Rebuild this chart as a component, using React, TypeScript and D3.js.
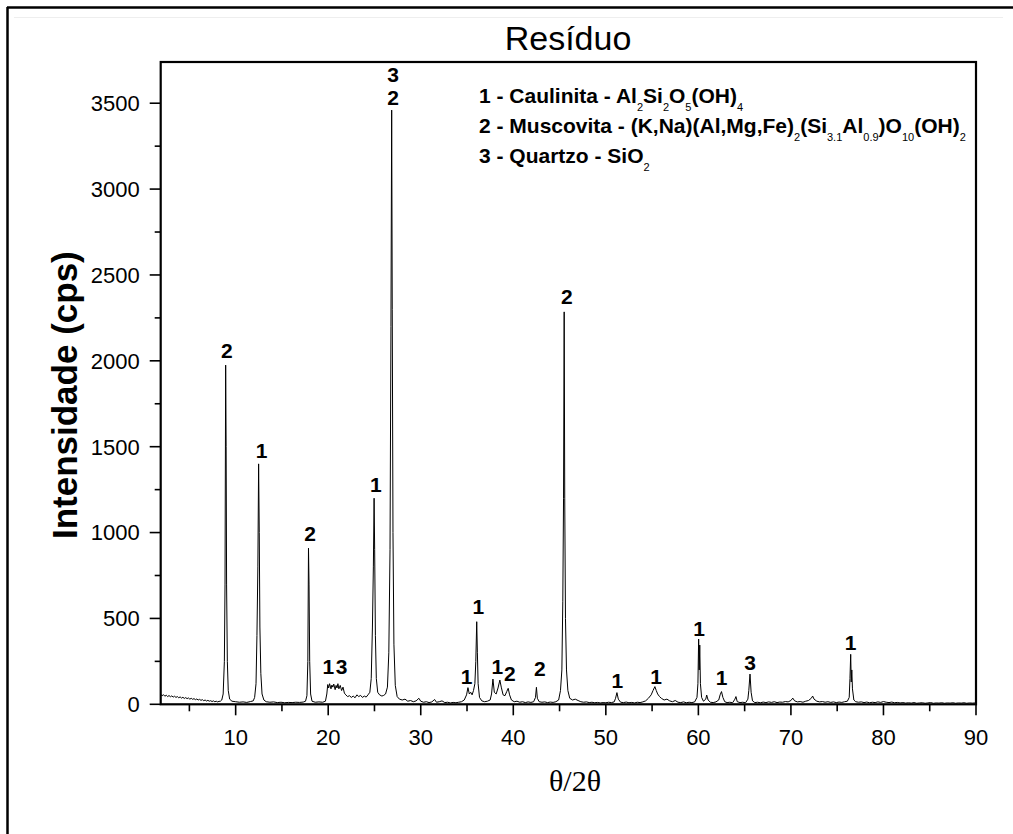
import React from "react";
import * as d3 from "d3";

// ---------- data ----------
const chartTitle = "Resíduo";
const xAxisTitle = "θ/2θ";
const yAxisTitle = "Intensidade (cps)";

const xDomain = [1.9, 90];
const yDomain = [0, 3740];
const xMajorTicks = [10, 20, 30, 40, 50, 60, 70, 80, 90];
const xMinorTicks = [5, 15, 25, 35, 45, 55, 65, 75, 85];
const yMajorTicks = [0, 500, 1000, 1500, 2000, 2500, 3000, 3500];
const yMinorTicks = [250, 750, 1250, 1750, 2250, 2750, 3250];

// diffractogram: [2θ, cps]
const segLowAngle: [number, number][] = [
  [1.9, 58], [2.05, 50], [2.2, 56], [2.35, 47], [2.5, 53], [2.65, 45], [2.8, 51], [2.95, 44], [3.1, 49],
  [3.25, 42], [3.4, 47], [3.55, 40], [3.7, 45], [3.85, 38], [4.0, 43], [4.15, 36], [4.3, 41], [4.45, 34],
  [4.6, 39], [4.75, 33], [4.9, 37], [5.05, 30], [5.2, 35], [5.35, 29], [5.5, 33], [5.65, 27], [5.8, 31],
  [5.95, 25], [6.1, 29], [6.25, 23], [6.4, 27], [6.55, 21], [6.7, 25], [6.85, 19], [7.0, 23], [7.15, 18],
  [7.3, 21], [7.45, 16], [7.6, 20], [7.75, 15], [7.9, 18], [8.05, 14], [8.2, 17], [8.35, 18],
  [8.5, 25], [8.65, 60], [8.78, 250], [8.85, 700], [8.92, 1975], [8.97, 1500], [9.02, 700], [9.1, 250],
  [9.2, 80], [9.35, 30], [9.6, 18], [10.0, 15], [10.4, 12], [10.8, 14], [11.2, 11], [11.6, 16], [11.9, 20],
  [12.05, 40], [12.2, 120], [12.3, 400], [12.4, 800], [12.48, 1400], [12.55, 1000], [12.62, 450],
  [12.72, 180], [12.85, 60], [13.05, 25], [13.3, 15], [13.7, 12], [14.1, 14], [14.5, 10], [14.9, 12],
  [15.3, 9], [15.7, 11], [16.1, 10], [16.5, 12], [16.9, 11], [17.3, 13], [17.55, 18],
  [17.7, 50], [17.8, 250], [17.87, 909], [17.93, 700], [18.0, 250], [18.1, 60], [18.25, 18],
  [18.6, 12], [19.0, 14], [19.4, 12], [19.7, 18],
];
const segMidAngle: [number, number][] = [
  [19.85, 60], [19.95, 115], [20.05, 95], [20.15, 120], [20.3, 90], [20.4, 112], [20.5, 100], [20.6, 118],
  [20.75, 85], [20.85, 110], [20.95, 95], [21.05, 120], [21.15, 90], [21.3, 110], [21.45, 80], [21.6, 100],
  [21.75, 65], [21.9, 55], [22.1, 45], [22.3, 50], [22.5, 40], [22.7, 48], [22.9, 38], [23.1, 55],
  [23.3, 45], [23.5, 52], [23.7, 40], [23.9, 48], [24.1, 42], [24.3, 55], [24.5, 70],
  [24.65, 150], [24.78, 450], [24.88, 800], [24.96, 1200], [25.02, 900], [25.1, 400], [25.2, 150],
  [25.35, 70], [25.55, 55], [25.8, 48], [26.0, 52], [26.2, 60], [26.4, 100],
  [26.55, 300], [26.68, 900], [26.78, 2200], [26.86, 3460], [26.92, 2300], [27.0, 1000], [27.1, 350],
  [27.25, 110], [27.45, 45], [27.7, 30], [28.0, 25], [28.3, 30], [28.6, 18], [28.9, 22], [29.2, 15],
  [29.5, 20], [29.8, 35], [30.0, 18], [30.3, 12], [30.6, 15], [30.9, 10], [31.2, 14], [31.5, 28],
  [31.7, 12], [32.0, 15], [32.3, 20], [32.6, 10], [32.9, 12], [33.2, 8], [33.5, 11], [33.8, 9],
  [34.1, 12], [34.4, 15], [34.7, 25],
  [34.95, 55], [35.1, 97], [35.25, 60], [35.4, 70], [35.55, 55], [35.7, 80],
  [35.85, 120], [35.95, 250], [36.05, 481], [36.12, 300], [36.2, 120], [36.35, 40], [36.6, 20],
  [36.9, 15], [37.2, 18], [37.5, 25],
  [37.65, 60], [37.8, 147], [37.95, 70], [38.15, 60], [38.35, 95], [38.55, 141], [38.7, 100], [38.9, 55],
  [39.1, 50], [39.3, 75], [39.45, 93], [39.6, 55], [39.8, 25], [40.1, 15], [40.4, 18], [40.7, 12],
  [41.0, 15], [41.3, 10], [41.6, 14], [41.9, 11], [42.2, 15], [42.4, 40], [42.5, 99], [42.6, 35],
  [42.8, 15], [43.1, 12], [43.4, 14], [43.7, 10], [44.0, 13], [44.3, 11], [44.6, 15], [44.9, 25],
  [45.1, 80], [45.25, 200], [45.35, 600], [45.43, 1200], [45.5, 2285], [45.56, 1200], [45.64, 500],
  [45.75, 200], [45.9, 80], [46.1, 35], [46.4, 25], [46.7, 30], [47.0, 22], [47.3, 15],
];
const segHighAngle: [number, number][] = [
  [47.6, 12], [47.9, 14], [48.2, 10], [48.5, 12], [48.8, 9], [49.1, 11], [49.4, 8], [49.7, 10],
  [50.0, 9], [50.3, 12], [50.6, 10], [50.9, 14], [51.05, 35], [51.2, 68], [51.35, 30], [51.6, 12],
  [51.9, 10], [52.2, 13], [52.5, 9], [52.8, 11], [53.1, 8], [53.4, 12], [53.7, 10], [54.0, 14],
  [54.3, 20], [54.6, 35], [54.9, 55], [55.1, 80], [55.3, 103], [55.45, 80], [55.6, 60], [55.8, 45],
  [56.0, 35], [56.3, 25], [56.6, 30], [56.9, 20], [57.2, 15], [57.5, 22], [57.8, 12], [58.1, 10],
  [58.4, 14], [58.7, 9], [59.0, 12], [59.3, 10], [59.6, 14], [59.85, 40],
  [59.95, 120], [60.03, 380], [60.09, 200], [60.15, 345], [60.22, 120], [60.35, 40], [60.55, 18],
  [60.8, 30], [60.9, 54], [61.05, 25], [61.3, 12], [61.6, 10], [61.9, 14], [62.2, 25],
  [62.35, 55], [62.5, 74], [62.65, 40], [62.85, 15], [63.1, 10], [63.4, 12], [63.7, 9], [63.95, 30],
  [64.06, 45], [64.2, 15], [64.5, 10], [64.8, 12], [65.1, 9], [65.35, 30],
  [65.45, 80], [65.58, 176], [65.7, 70], [65.85, 20], [66.1, 10], [66.4, 12], [66.7, 9], [67.0, 13],
  [67.3, 10], [67.6, 14], [67.9, 11], [68.2, 15], [68.5, 10], [68.8, 13], [69.1, 12], [69.4, 16],
  [69.7, 14], [70.0, 22], [70.2, 36], [70.4, 20], [70.7, 14], [71.0, 16], [71.3, 12], [71.6, 18],
  [71.9, 22], [72.2, 35], [72.35, 48], [72.5, 30], [72.8, 18], [73.1, 14], [73.4, 16], [73.7, 12],
  [74.0, 15], [74.3, 11], [74.6, 14], [74.9, 10], [75.2, 13], [75.5, 11], [75.8, 15], [76.1, 18],
  [76.3, 40], [76.38, 150], [76.46, 291], [76.52, 130], [76.58, 200], [76.65, 90], [76.8, 25],
  [77.0, 15], [77.3, 12], [77.6, 14], [77.9, 10], [78.2, 13], [78.5, 9], [78.8, 12], [79.1, 10],
  [79.4, 14], [79.7, 11], [80.0, 16], [80.3, 12], [80.6, 10], [80.9, 13], [81.2, 9], [81.5, 11],
  [81.8, 8], [82.1, 10], [82.4, 7], [82.7, 9], [83.0, 7], [83.3, 10], [83.6, 6], [83.9, 8], [84.2, 9],
  [84.5, 6], [84.8, 8], [85.1, 10], [85.4, 6], [85.7, 8], [86.0, 7], [86.3, 9], [86.6, 6], [86.9, 8],
  [87.2, 7], [87.5, 9], [87.8, 6], [88.1, 8], [88.4, 7], [88.7, 9], [89.0, 6], [89.3, 8], [89.6, 7],
  [90.0, 8],
];

// phase labels above peaks: [2θ, cps, text]
const peakLabels: [number, number, string][] = [
  [9.06, 2063, "2"], [12.81, 1481, "1"], [18.03, 994, "2"], [20.01, 219, "1"], [21.45, 219, "3"],
  [25.16, 1283, "1"], [27.0, 3666, "3"], [27.0, 3536, "2"], [34.96, 161, "1"], [36.22, 568, "1"],
  [38.27, 219, "1"], [39.64, 182, "2"], [42.88, 211, "2"], [45.8, 2373, "2"], [51.24, 137, "1"],
  [55.42, 161, "1"], [60.07, 443, "1"], [62.52, 157, "1"], [65.58, 242, "3"], [76.46, 359, "1"],
];

// legend lines: pieces of [text, isSubscript]
const legendCaulinita: [string, boolean][] = [
  ["1 - Caulinita - Al", false], ["2", true], ["Si", false], ["2", true], ["O", false], ["5", true],
  ["(OH)", false], ["4", true],
];
const legendMuscovita: [string, boolean][] = [
  ["2 - Muscovita - (K,Na)(Al,Mg,Fe)", false], ["2", true], ["(Si", false], ["3.1", true],
  ["Al", false], ["0.9", true], [")O", false], ["10", true], ["(OH)", false], ["2", true],
];
const legendQuartzo: [string, boolean][] = [["3 - Quartzo - SiO", false], ["2", true]];
const legendLines = [legendCaulinita, legendMuscovita, legendQuartzo];

// ---------- layout ----------
const W = 1013;
const H = 834;
const plot = { left: 160.7, right: 976, top: 62, bottom: 704.3 };
const SANS = "'Liberation Sans', Arial, sans-serif";
const SERIF = "'Liberation Serif', 'Times New Roman', serif";

export default function App() {
  const x = d3.scaleLinear().domain(xDomain).range([plot.left, plot.right]);
  const y = d3.scaleLinear().domain(yDomain).range([plot.bottom, plot.top]);
  const pattern = [...segLowAngle, ...segMidAngle, ...segHighAngle];
  const line = d3
    .line<[number, number]>()
    .x((d) => x(d[0]))
    .y((d) => y(d[1]));

  const legendFont = 21;
  const subFont = 11;
  const subDrop = 8;

  return (
    <div style={{ position: "absolute", left: 0, top: 0 }}>
      <svg width={W} height={H} style={{ display: "block", background: "#fff" }}>
        <rect x={0} y={0} width={W} height={H} fill="#fff" />
        {/* outer frame (top and left edges) */}
        <line x1={7} y1={7.5} x2={W} y2={7.5} stroke="#000" strokeWidth={2.5} />
        <line x1={7.5} y1={7} x2={7.5} y2={H} stroke="#000" strokeWidth={2.5} />
        <line x1={14} y1={17.5} x2={1003} y2={17.5} stroke="#eeeeee" strokeWidth={1} />

        {/* title */}
        <text x={568} y={50} textAnchor="middle" fontFamily={SANS} fontSize={34} fill="#000">
          {chartTitle}
        </text>

        <defs>
          <clipPath id="plotClip">
            <rect x={plot.left} y={plot.top} width={plot.right - plot.left} height={plot.bottom - plot.top} />
          </clipPath>
        </defs>

        {/* data */}
        <path d={line(pattern) || ""} fill="none" stroke="#000" strokeWidth={1} clipPath="url(#plotClip)" />

        {/* frame */}
        <rect
          x={plot.left}
          y={plot.top}
          width={plot.right - plot.left}
          height={plot.bottom - plot.top}
          fill="none"
          stroke="#000"
          strokeWidth={2.2}
        />

        {/* y ticks */}
        {yMajorTicks.map((v) => (
          <g key={"ym" + v}>
            <line x1={plot.left - 11} x2={plot.left} y1={y(v)} y2={y(v)} stroke="#000" strokeWidth={1.6} />
            <text x={plot.left - 21} y={y(v)} dy="0.36em" textAnchor="end" fontFamily={SANS} fontSize={22}>
              {v}
            </text>
          </g>
        ))}
        {yMinorTicks.map((v) => (
          <line key={"yn" + v} x1={plot.left - 6} x2={plot.left} y1={y(v)} y2={y(v)} stroke="#000" strokeWidth={1.6} />
        ))}

        {/* x ticks */}
        {xMajorTicks.map((v) => (
          <g key={"xm" + v}>
            <line x1={x(v)} x2={x(v)} y1={plot.bottom} y2={plot.bottom + 11} stroke="#000" strokeWidth={1.6} />
            <text x={x(v)} y={745} textAnchor="middle" fontFamily={SANS} fontSize={22}>
              {v}
            </text>
          </g>
        ))}
        {xMinorTicks.map((v) => (
          <line key={"xn" + v} x1={x(v)} x2={x(v)} y1={plot.bottom} y2={plot.bottom + 7} stroke="#000" strokeWidth={1.6} />
        ))}

        {/* axis titles */}
        <text x={575} y={791} textAnchor="middle" fontFamily={SERIF} fontSize={30}>
          {xAxisTitle}
        </text>
        <text
          transform={`translate(77, ${(plot.top + plot.bottom) / 2 + 12}) rotate(-90)`}
          textAnchor="middle"
          fontFamily={SANS}
          fontWeight="bold"
          fontSize={35}
        >
          {yAxisTitle}
        </text>

        {/* peak labels */}
        {peakLabels.map(([t, c, s], i) => (
          <text
            key={"pl" + i}
            x={x(t)}
            y={y(c)}
            dy="0.36em"
            textAnchor="middle"
            fontFamily={SANS}
            fontWeight="bold"
            fontSize={21}
          >
            {s}
          </text>
        ))}

        {/* legend */}
        {legendLines.map((pieces, i) => (
          <text key={"lg" + i} x={479} y={103 + i * 30} fontFamily={SANS} fontWeight="bold" fontSize={legendFont}>
            {pieces.map(([s, sub], j) => (
              <tspan
                key={j}
                fontSize={sub ? subFont : legendFont}
                dy={sub ? subDrop : j === 0 ? 0 : -subDrop}
                fontWeight={sub ? "normal" : "bold"}
              >
                {s}
              </tspan>
            ))}
          </text>
        ))}
      </svg>
    </div>
  );
}
